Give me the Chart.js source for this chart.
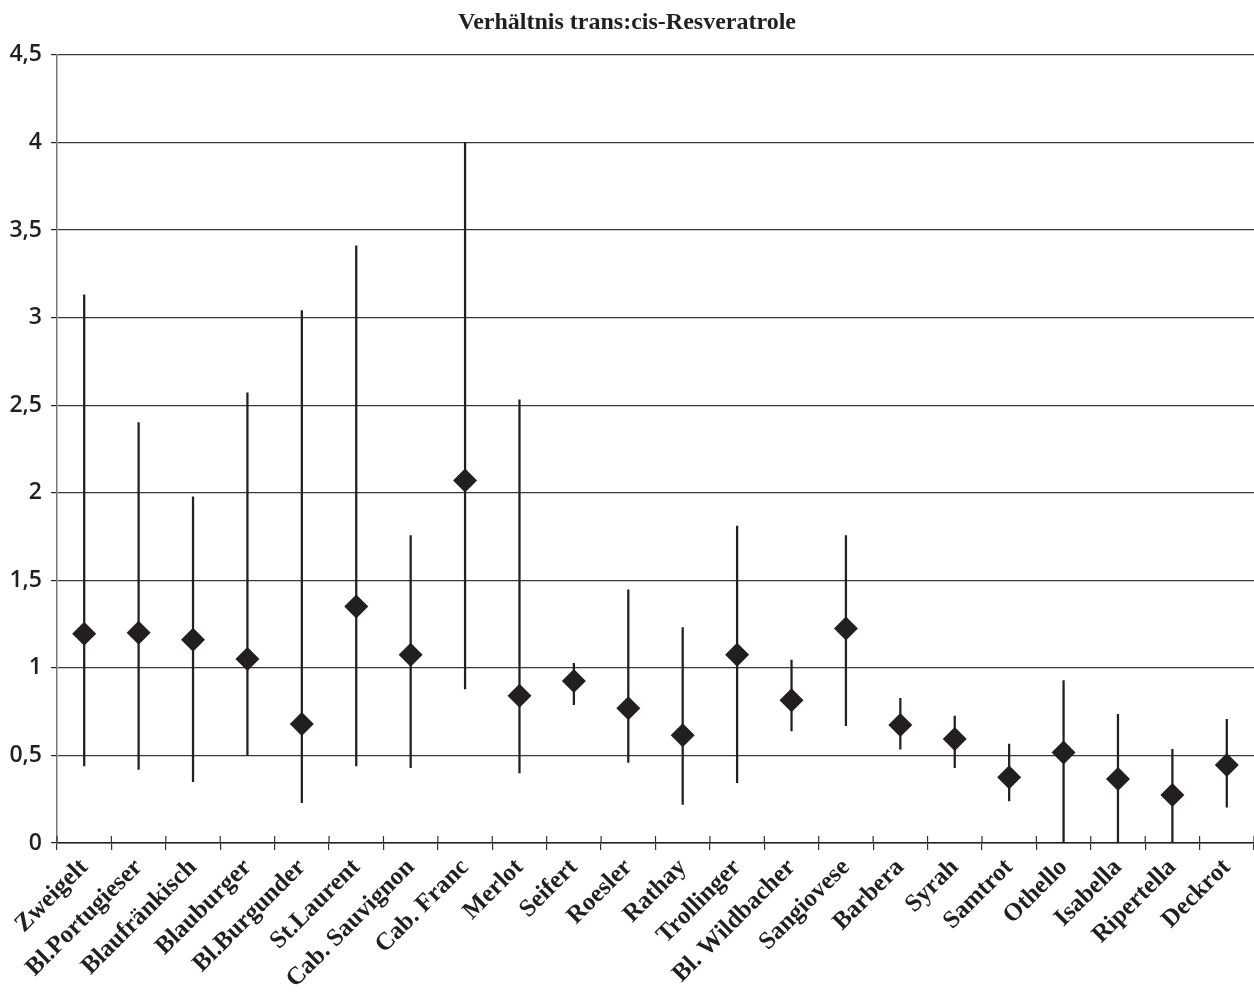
<!DOCTYPE html>
<html>
<head>
<meta charset="utf-8">
<script src="https://cdn.jsdelivr.net/npm/chart.js@4/dist/chart.umd.min.js"></script>
<style>
html,body{margin:0;padding:0;background:#fff;}
canvas{display:block;}
</style>
</head>
<body>
<canvas id="c" width="1254" height="994"></canvas>
<script>
const categories = ['Zweigelt','Bl.Portugieser','Blaufränkisch','Blauburger','Bl.Burgunder','St.Laurent','Cab. Sauvignon','Cab. Franc','Merlot','Seifert','Roesler','Rathay','Trollinger','Bl. Wildbacher','Sangiovese','Barbera','Syrah','Samtrot','Othello','Isabella','Ripertella','Deckrot'];
const meanValues = [1.195,1.20,1.16,1.05,0.68,1.35,1.075,2.07,0.84,0.925,0.77,0.615,1.075,0.815,1.224,0.674,0.594,0.375,0.516,0.365,0.274,0.445];
const minValues  = [0.44,0.42,0.35,0.50,0.23,0.44,0.43,0.88,0.40,0.79,0.46,0.22,0.344,0.64,0.67,0.535,0.43,0.24,0,0,0,0.204];
const maxValues  = [3.13,2.40,1.976,2.57,3.04,3.41,1.755,4.0,2.53,1.026,1.445,1.23,1.81,1.045,1.755,0.826,0.724,0.565,0.927,0.735,0.535,0.706];
const yTickValues = [0,0.5,1,1.5,2,2.5,3,3.5,4,4.5];
const yTickLabels = ['0','0,5','1','1,5','2','2,5','3','3,5','4','4,5'];
const titleText = 'Verhältnis trans:cis-Resveratrole';

const ranges = minValues.map((v,i)=>[v, maxValues[i]]);

const tickCross = {
  id:'tickCross',
  afterDraw(chart){
    const x = chart.scales.x, ctx = chart.ctx;
    const b = chart.chartArea.bottom;
    ctx.save();
    ctx.strokeStyle = '#333';
    ctx.lineWidth = 1.2;
    for (let i=0;i<=categories.length;i++){
      const px = x.getPixelForValue(i-0.5);
      ctx.beginPath();
      ctx.moveTo(px, b-7);
      ctx.lineTo(px, b);
      ctx.stroke();
    }
    ctx.restore();
  }
};

new Chart(document.getElementById('c'), {
  type:'bar',
  data:{
    labels: categories,
    datasets:[
      {
        type:'bar',
        data: ranges,
        backgroundColor:'#231f20',
        borderWidth:0,
        barThickness:1.6,
        order:2
      },
      {
        type:'line',
        data: meanValues,
        showLine:false,
        pointStyle:'rectRot',
        pointRadius:12,
        pointHoverRadius:12,
        backgroundColor:'#231f20',
        borderColor:'#231f20',
        borderWidth:0,
        clip:false,
        order:1
      }
    ]
  },
  options:{
    responsive:false,
    animation:false,
    devicePixelRatio:1,
    layout:{autoPadding:false, padding:{left:0,right:0,top:0,bottom:0}},
    plugins:{
      legend:{display:false},
      tooltip:{enabled:false},
      title:{
        display:true,
        text:titleText,
        color:'#231f20',
        font:{family:'Liberation Serif', size:24, weight:'bold'},
        padding:{top:8,bottom:18}
      }
    },
    scales:{
      x:{
        offset:true,
        grid:{offset:true, drawOnChartArea:false, drawTicks:true, tickLength:7, color:'#333', lineWidth:1.2},
        border:{display:true, color:'#222', width:1.5},
        ticks:{
          autoSkip:false,
          maxRotation:45, minRotation:45,
          color:'#231f20',
          padding:3,
          font:{family:'Liberation Serif', size:25, weight:'bold'}
        },
        afterFit(s){ s.height = 151; s.paddingRight = 0; s.paddingLeft = 0; }
      },
      y:{
        min:0, max:4.5,
        afterBuildTicks(s){ s.ticks = yTickValues.map(v=>({value:v})); },
        grid:{color:'#3a3a3a', lineWidth:1.2, drawTicks:true, tickLength:6, tickColor:'#222'},
        border:{display:true, color:'#777', width:1.5},
        ticks:{
          color:'#231f20',
          padding:9,
          font:{family:'Open Sans', size:23, weight:'600'},
          callback(v){ const i = yTickValues.indexOf(v); return i>=0 ? yTickLabels[i] : ''; }
        },
        afterFit(s){ s.width = 57; }
      }
    }
  },
  plugins:[tickCross]
});
</script>
</body>
</html>
